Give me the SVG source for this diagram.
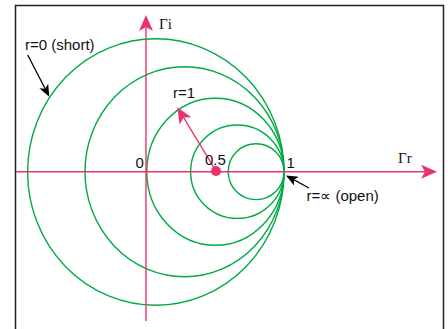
<svg xmlns="http://www.w3.org/2000/svg" width="448" height="329" viewBox="0 0 448 329">
<style>
.frame{fill:none;stroke:#222;stroke-width:1.5}
.rc{fill:none;stroke:#00aa44;stroke-width:1.4}
.axis{stroke:#e8336e;stroke-width:1.4;fill:none}
.lbl{stroke:#000;stroke-width:1.3;fill:none}
.t{font-family:"Liberation Sans",Arial,sans-serif;font-size:15px;fill:#111}
.g{font-family:"Liberation Serif","Times New Roman",serif;font-size:15px;fill:#111}
</style>
<defs>
<marker id="pk" viewBox="0 0 16 14" refX="12" refY="7" markerWidth="16" markerHeight="14" markerUnits="userSpaceOnUse" orient="auto">
<path d="M0,0 L16,7 L0,14 L4,7 Z" fill="#e8336e"/>
</marker>
<marker id="bk" viewBox="0 0 12 10" refX="9" refY="5" markerWidth="12" markerHeight="10" markerUnits="userSpaceOnUse" orient="auto">
<path d="M0,0 L12,5 L0,10 L3,5 Z" fill="#000"/>
</marker>
</defs>
<rect class="frame" x="15.5" y="5.5" width="428" height="340"/>
<g id="circles">
<g id="r0"><ellipse class="rc" cx="155.8" cy="172" rx="128.2" ry="133.2"/></g>
<g id="r033"><ellipse class="rc" cx="184.5" cy="171.7" rx="99.5" ry="105"/></g>
<g id="r1"><ellipse class="rc" cx="215.4" cy="171.7" rx="68.6" ry="73.5"/></g>
<g id="r2"><circle class="rc" cx="237.3" cy="171.7" r="46.7"/></g>
<g id="r4"><circle class="rc" cx="256.1" cy="171.7" r="27.9"/></g>
</g>
<g id="connectors">
<line class="axis" x1="16" y1="171.7" x2="433" y2="171.7" marker-end="url(#pk)"/>
<line class="axis" x1="146" y1="321" x2="146" y2="19" marker-end="url(#pk)"/>
<line class="axis" x1="216" y1="171" x2="179.4" y2="110.7" marker-end="url(#pk)"/>
<line class="lbl" x1="27.7" y1="55" x2="47.9" y2="94" marker-end="url(#bk)"/>
<line class="lbl" x1="309" y1="188" x2="288.6" y2="176.9" marker-end="url(#bk)"/>
</g>
<g id="center"><circle cx="216" cy="171" r="5" fill="#e8336e"/></g>
<g id="labels">
<text class="g" x="159" y="29">Γi</text>
<text class="g" x="398" y="163">Γr</text>
<text class="t" x="25" y="49.5">r=0 (short)</text>
<text class="t" x="173" y="98">r=1</text>
<text class="t" x="135.5" y="168.3">0</text>
<text class="t" x="205" y="165">0.5</text>
<text class="t" x="286.5" y="168.3">1</text>
<text class="t" x="306.5" y="201">r=∝ (open)</text>
</g>
</svg>
